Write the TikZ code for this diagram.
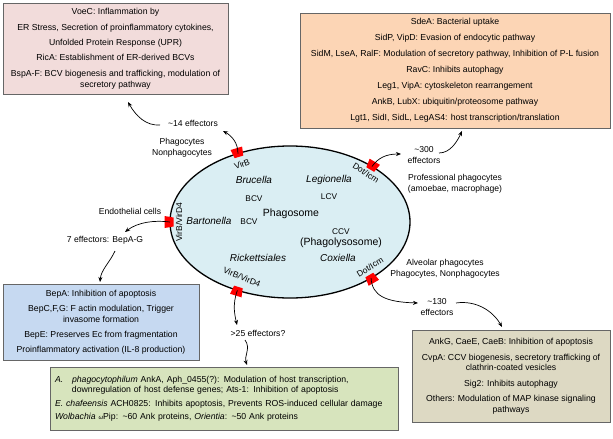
\documentclass[tikz,border=0pt]{standalone}
\usepackage{fontspec}
\setmainfont{Liberation Sans}
\usetikzlibrary{arrows.meta,shapes.geometric}
\definecolor{pinkf}{HTML}{F2DCDB}
\definecolor{orangef}{HTML}{FCD5B5}
\definecolor{bluef}{HTML}{C6D9F1}
\definecolor{greenf}{HTML}{D7E4BD}
\definecolor{tanf}{HTML}{DDD9C3}
\definecolor{ellf}{HTML}{DAEEF3}
\definecolor{mred}{HTML}{FF0000}
\newcommand\secmarker[2]{\begin{scope}[shift={(#1)},rotate=#2]\fill[mred] (-3.5pt,-4.5pt) -- (5.5pt,-6pt) -- (5.5pt,6pt) -- (-3.5pt,4.5pt) -- cycle;\end{scope}}
\begin{document}
\begin{tikzpicture}[x=1pt,y=-1pt,
 box/.style={draw=black!60, line width=0.8pt, inner sep=0pt, align=center, font=\fontsize{8.7}{10.5}\selectfont},
 lbl/.style={inner sep=0pt, align=center, font=\fontsize{8.6}{11}\selectfont},
 arr/.style={-{Stealth[length=5pt,width=4pt]}, line width=0.7pt},
 sp/.style={inner sep=0pt, font=\fontsize{10}{12}\selectfont\itshape},
 vc/.style={inner sep=0pt, font=\fontsize{8.3}{10}\selectfont},
 big/.style={inner sep=0pt, font=\fontsize{10.5}{12}\selectfont},
 ss/.style={inner sep=0pt, font=\fontsize{8.5}{10}\selectfont}]
\useasboundingbox (0,0) rectangle (613,439);

% boxes
\node[box, fill=pinkf, minimum width=225, minimum height=91] (pink) at (115.5,48.5)
 {VoeC: Inflammation by\\[5pt] ER Stress, Secretion of proinflammatory cytokines,\\[5pt] Unfolded Protein Response (UPR)\\[5pt] RicA: Establishment of ER-derived BCVs\\[5pt] BspA-F: BCV biogenesis and trafficking, modulation of\\ secretory pathway};
\node[box, fill=orangef, minimum width=310, minimum height=115] (orange) at (455,70.5)
 {SdeA: Bacterial uptake\\[5.5pt] SidP, VipD: Evasion of endocytic pathway\\[5.5pt] SidM, LseA, RalF: Modulation of secretory pathway, Inhibition of P-L fusion\\[5.5pt] RavC: Inhibits autophagy\\[5.5pt] Leg1, VipA: cytoskeleton rearrangement\\[5.5pt] AnkB, LubX: ubiquitin/proteosome pathway\\[5.5pt] Lgt1, SidI, SidL, LegAS4: host transcription/translation};
\node[box, fill=bluef, minimum width=196, minimum height=76] (blue) at (101,322)
 {BepA: Inhibition of apoptosis\\[4.5pt] BepC,F,G: F actin modulation, Trigger\\ invasome formation\\[4.5pt] BepE: Preserves Ec from fragmentation\\[4.5pt] Proinflammatory activation (IL-8 production)};
\node[box, fill=greenf, minimum width=348, minimum height=63, align=left, text width=338] (green) at (224,398.5)
 {\makebox[17pt][l]{\textit{A.}}\textit{phagocytophilum} AnkA, Aph\_0455(?): Modulation of host transcription,\\ \hspace*{17pt}downregulation of host defense genes; Ats-1: Inhibition of apoptosis\\[3pt] \textit{E. chafeensis} ACH0825: Inhibits apoptosis, Prevents ROS-induced cellular damage\\[3pt] \textit{Wolbachia} {\fontsize{6}{6}\selectfont\textit{ω}}Pip: \textasciitilde60 Ank proteins, \textit{Orientia}: \textasciitilde50 Ank proteins};
\node[box, fill=tanf, minimum width=198, minimum height=92] (tan) at (511,376)
 {AnkG, CaeE, CaeB: Inhibition of apoptosis\\[5pt] CvpA: CCV biogenesis, secretory trafficking of\\ clathrin-coated vesicles\\[5pt] Sig2: Inhibits autophagy\\[5pt] Others: Modulation of MAP kinase signaling\\ pathways};

% phagosome
\node[draw, line width=1.3pt, fill=ellf, ellipse, minimum width=240, minimum height=152, inner sep=0pt] (phago) at (290,222) {};
\node[big] (phg) at (291,214) {Phagosome};
\node[sp] (bru) at (254,180) {Brucella};
\node[sp] (leg) at (329,180) {Legionella};
\node[sp] (bar) at (209,221) {Bartonella};
\node[sp] (ric) at (258,258) {Rickettsiales};
\node[sp] (cox) at (338,258) {Coxiella};
\node[vc] (bcv1) at (254,199) {BCV};
\node[vc] (bcv2) at (249,222) {BCV};
\node[vc] (lcv) at (329,197) {LCV};
\node[vc] (ccv) at (341,232) {CCV};
\node[big] (phl) at (341,243) {(Phagolysosome)};

% secretion systems
\coordinate (mA) at ({290+120*cos(115.7)},{222-76*sin(115.7)});
\coordinate (mB) at ({290+120*cos(46.9)},{222-76*sin(46.9)});
\coordinate (mC) at ({290+120*cos(-47.5)},{222-76*sin(-47.5)});
\coordinate (mD) at ({290+120*cos(-116)},{222-76*sin(-116)});
\coordinate (mE) at (170,222);
\secmarker{mA}{106.9}
\secmarker{mB}{59.4}
\secmarker{mC}{-59.9}
\secmarker{mD}{-107.2}
\secmarker{mE}{180}
\node[ss, rotate=20] (tA) at (242,164) {VirB};
\node[ss, rotate=-33] (tB) at (366,173) {Dot/Icm};
\node[ss, rotate=32] (tC) at (370,267) {Dot/Icm};
\node[ss, rotate=-22] (tD) at (242,277) {VirB/VirD4};
\node[ss, rotate=90] (tE) at (179,222) {VirB/VirD4};

% outside labels
\node[lbl] (e14) at (193,123) {\textasciitilde14 effectors};
\node[lbl] (phn) at (182,148) {Phagocytes\\Nonphagocytes};
\node[lbl] (e300) at (424,155.5) {\textasciitilde300\\effectors};
\node[lbl] (prof) at (455,184) {Professional phagocytes\\(amoebae, macrophage)};
\node[lbl] (alv) at (445,269) {Alveolar phagocytes\\Phagocytes, Nonphagocytes};
\node[lbl] (e130) at (437,307) {\textasciitilde130\\effectors};
\node[lbl] (e25) at (258,333) {>25 effectors?};
\node[lbl] (endo) at (130,211) {Endothelial cells};
\node[lbl] (e7) at (105,240) {7 effectors: BepA-G};

% connectors
\coordinate (a1) at (223,131);
\coordinate (a2s) at (160,125);
\coordinate (a2) at (128,102);
\coordinate (a3) at (401,154);
\coordinate (a4s) at (439,153);
\coordinate (a4) at (462,131);
\coordinate (a5) at (418,303);
\coordinate (a6s) at (456,303);
\coordinate (a6) at (502,327);
\coordinate (a7) at (237,325);
\coordinate (a8s) at (245,340);
\coordinate (a8) at (247,365);
\coordinate (a9) at (125,232);
\coordinate (a10s) at (115,251);
\coordinate (a10) at (100,282);
\draw[arr] (mA) .. controls (238,143) and (232,136) .. (a1);
\draw[arr] (a2s) .. controls (146,126) and (136,116) .. (a2);
\draw[arr] (mB) .. controls (378,158) and (386,154) .. (a3);
\draw[arr] (a4s) .. controls (450,153) and (457,142) .. (a4);
\draw[arr] (mC) .. controls (372,296) and (386,302) .. (a5);
\draw[arr] (a6s) .. controls (476,300) and (493,311) .. (a6);
\draw[arr] (mD) .. controls (232,305) and (235,316) .. (a7);
\draw[arr] (a8s) .. controls (251,348) and (244,356) .. (a8);
\draw[arr] (mE) .. controls (155,220) and (138,222) .. (a9);
\draw[arr] (a10s) .. controls (110,262) and (101,270) .. (a10);
\end{tikzpicture}
\end{document}
